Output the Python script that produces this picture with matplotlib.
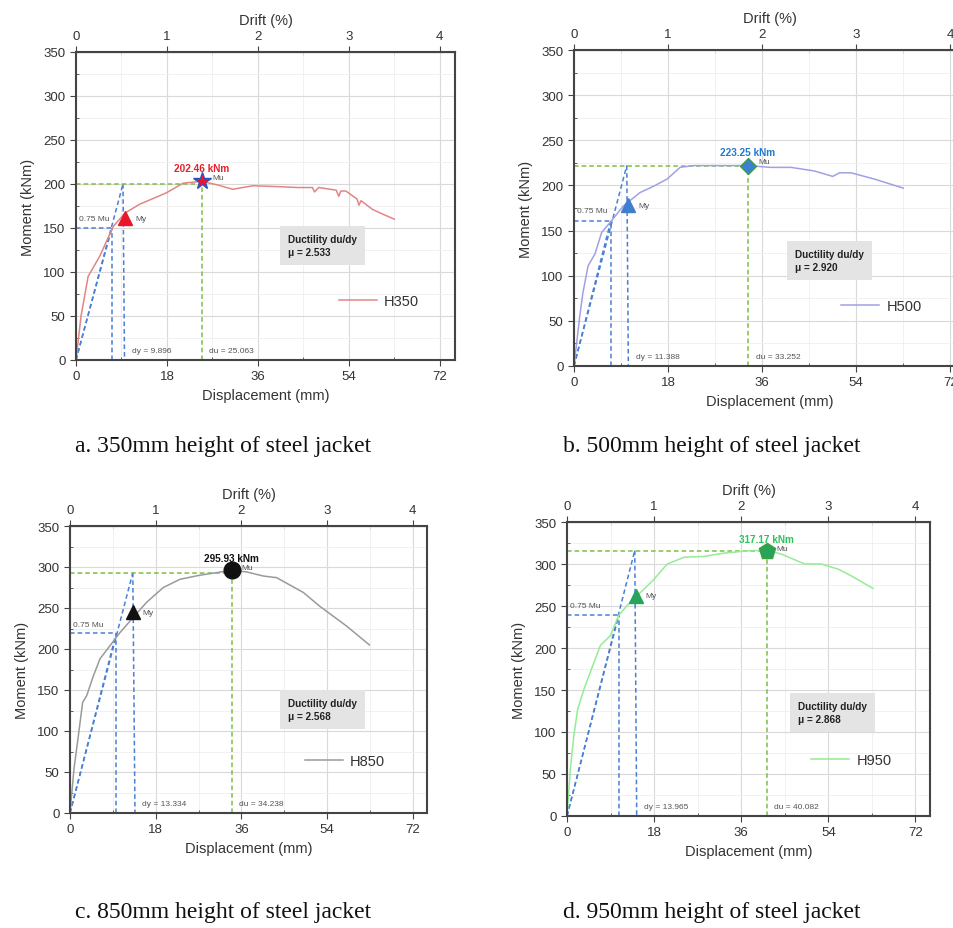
import matplotlib
matplotlib.use('Agg')
import matplotlib.pyplot as plt
from matplotlib.ticker import MultipleLocator

plt.rcParams['font.family'] = ['Liberation Sans', 'DejaVu Sans']

# curves (displacement mm, moment kNm)
disp_350 = [0, 1.0, 2.4, 4.7, 7.4, 9.7, 12.6, 17.9, 21.2, 24.8, 28, 31, 35, 40, 44, 46.8, 47.2, 48, 51.5, 52, 52.4, 53.4, 55.6, 56, 56.4, 58.7, 61, 63]
mom_350 = [0, 50, 95, 118, 152, 167, 177, 190, 201, 203, 199, 194, 198, 197, 196, 196, 191, 196, 193, 186, 192, 192, 183, 176, 181, 171, 165, 160]

disp_500 = [0, 1.1, 1.7, 2.7, 4.0, 5.3, 7.2, 9.4, 12.6, 15.2, 17.8, 20.3, 22.9, 28, 33.3, 37.6, 41.5, 46, 49.5, 50.8, 53, 57.5, 63]
mom_500 = [0, 55, 81, 111, 124, 148, 161, 177, 192, 199, 207, 220, 222, 222, 222, 220, 220, 216, 210, 214, 214, 207, 197]

disp_850 = [0, 0.84, 1.75, 2.66, 3.5, 4.9, 6.3, 8.4, 10.5, 13.2, 16.1, 19.6, 23.1, 27.3, 34, 37.1, 40.6, 43.4, 49, 52.5, 58.1, 62.9]
mom_850 = [0, 54, 94, 135, 143, 167, 188, 204, 220, 238, 257, 275, 285, 290, 296, 294, 289, 287, 269, 252, 228, 205]

disp_950 = [0, 0.7, 1.4, 2.2, 3.5, 4.8, 6.9, 9.0, 10.7, 13.1, 15.9, 18.0, 20.7, 24.2, 28.3, 32.5, 38, 41.5, 44.2, 49.1, 52.5, 56, 58.7, 63.2]
mom_950 = [0, 56, 95, 127, 151, 171, 203, 215, 239, 255, 270, 282, 300, 308, 309, 313, 316, 316, 312, 300, 300, 294, 286, 271]

names = ['H350', 'H500', 'H850', 'H950']
captions = ['a. 350mm height of steel jacket', 'b. 500mm height of steel jacket',
            'c. 850mm height of steel jacket', 'd. 950mm height of steel jacket']
mu_text = ['202.46 kNm', '223.25 kNm', '295.93 kNm', '317.17 kNm']
dy_text = ['dy = 9.896', 'dy = 11.388', 'dy = 13.334', 'dy = 13.965']
du_text = ['du = 25.063', 'du = 33.252', 'du = 34.238', 'du = 40.082']
duct_text = ['2.533', '2.920', '2.568', '2.868']

# key points as drawn
mu_x = [24.9, 33.3, 34.0, 41.3]
mu_y = [203, 222, 296, 315]
mu_line = [200, 222, 293, 316]
my_x = [9.7, 10.25, 13.2, 14.2]
my_y = [161, 178, 245, 262]
m75 = [150, 161, 219, 239]
d75 = [7.1, 7.05, 9.7, 10.7]
dy_line = [9.6, 10.4, 13.65, 14.4]
top_x = [9.3, 10.1, 13.2, 14.0]

curve_colors = ['#e38585', '#a0a0e6', '#9a9a9a', '#95ec95']
mark_colors = ['#e8182a', '#3f7fcf', '#111111', '#27a35a']
label_colors = ['#e8202a', '#1f7ad0', '#111111', '#2dc25c']
mu_markers = ['*', 'D', 'o', 'p']
mu_sizes = [13, 8, 12, 12]
mu_edges = ['#3050c0', '#3aa040', '#111111', '#3aa040']
box_x = [42.0, 42.3, 45.8, 47.8]
box_y = [130, 117, 126, 123]
leg_anchor = [(0.94, 0.19), (0.92, 0.19), (0.92, 0.18), (0.93, 0.19)]

# axes boxes in pixels: left, right, top, bottom
boxes = [(76, 455, 53, 361), (574, 966, 51, 367), (70, 427, 527, 814), (567, 930, 523, 817)]
cap_pos = [(75, 447), (563, 447), (75, 913), (563, 913)]

curves = [(disp_350, mom_350), (disp_500, mom_500), (disp_850, mom_850), (disp_950, mom_950)]

W, H = 954, 929
fig = plt.figure(figsize=(W / 100, H / 100), dpi=100)

blue = '#4a7fd6'
green = '#7cbf45'
grey = '#555555'

for i in range(4):
    l, r, t, b = boxes[i]
    ax = fig.add_axes([l / W, 1 - b / H, (r - l) / W, (b - t) / H])
    ax.set_xlim(0, 75)
    ax.set_ylim(0, 350)
    ax.xaxis.set_major_locator(MultipleLocator(18))
    ax.xaxis.set_minor_locator(MultipleLocator(9))
    ax.yaxis.set_major_locator(MultipleLocator(50))
    ax.yaxis.set_minor_locator(MultipleLocator(25))
    ax.grid(which='major', color='#d9d9d9', lw=0.8)
    ax.grid(which='minor', color='#efefef', lw=0.6)
    ax.set_axisbelow(True)
    ax.tick_params(which='major', direction='out', length=4, labelsize=9.5, colors='#444444', labelcolor='#333333')
    ax.tick_params(which='minor', direction='in', length=2.5, colors='#444444')
    for s in ax.spines.values():
        s.set_color('#444444')
        s.set_linewidth(1.5)
    ax.set_xlabel('Displacement (mm)', fontsize=10.5, color='#333333', labelpad=4)
    ax.set_ylabel('Moment (kNm)', fontsize=10.5, color='#333333', labelpad=6)

    top = ax.secondary_xaxis('top', functions=(lambda x: x / 18, lambda x: x * 18))
    top.xaxis.set_major_locator(MultipleLocator(1))
    top.xaxis.set_minor_locator(MultipleLocator(0.5))
    top.tick_params(which='major', direction='out', length=4, labelsize=9.5, colors='#444444', labelcolor='#333333')
    top.tick_params(which='minor', direction='in', length=2.5, colors='#444444')
    top.set_xlabel('Drift (%)', fontsize=10.5, color='#333333', labelpad=4)

    dash = dict(ls=(0, (3, 2)), lw=1.1)
    # bilinear idealisation lines
    ax.plot([0, top_x[i]], [0, mu_line[i]], color=blue, **dash)
    ax.plot([0, d75[i]], [0, m75[i]], color=blue, **dash)
    ax.plot([top_x[i], dy_line[i]], [mu_line[i], 0], color=blue, **dash)
    ax.plot([0, d75[i]], [m75[i], m75[i]], color=blue, **dash)
    ax.plot([d75[i], d75[i]], [0, m75[i]], color=blue, **dash)
    ax.plot([0, mu_x[i]], [mu_line[i], mu_line[i]], color=green, **dash)
    ax.plot([mu_x[i], mu_x[i]], [0, mu_line[i]], color=green, **dash)

    x, y = curves[i]
    ax.plot(x, y, color=curve_colors[i], lw=1.1, label=names[i])

    ax.plot(my_x[i], my_y[i], marker='^', ms=10, color=mark_colors[i], mec=mark_colors[i], ls='none')
    ax.plot(mu_x[i], mu_y[i], marker=mu_markers[i], ms=mu_sizes[i], color=mark_colors[i],
            mec=mu_edges[i], mew=1.0, ls='none')

    ax.text(mu_x[i], mu_y[i] + 15, mu_text[i], color=label_colors[i], fontsize=7.2,
            fontweight='bold', ha='center', va='center')
    ax.text(mu_x[i] + 2, mu_y[i] + 4, 'Mu', color=grey, fontsize=6, va='center')
    ax.text(my_x[i] + 2, my_y[i], 'My', color=grey, fontsize=6, va='center')
    ax.text(0.6, m75[i] + 11, '0.75 Mu', color=grey, fontsize=6, va='center')
    ax.text(dy_line[i] + 1.5, 11, dy_text[i], color=grey, fontsize=6, va='center')
    ax.text(mu_x[i] + 1.5, 11, du_text[i], color=grey, fontsize=6, va='center')
    ax.text(box_x[i], box_y[i], 'Ductility du/dy\n\u03bc = ' + duct_text[i], fontsize=7.2,
            fontweight='bold', color='#222222', va='center', linespacing=1.4,
            bbox=dict(facecolor='#e4e4e4', edgecolor='none', boxstyle='square,pad=0.8'))

    ax.legend(loc='center right', bbox_to_anchor=leg_anchor[i], frameon=False, fontsize=10.5,
              handlelength=2.6, handletextpad=0.5, labelcolor='#333333')

    fig.text(cap_pos[i][0] / W, 1 - cap_pos[i][1] / H, captions[i], family='Liberation Serif',
             fontsize=17, va='center', ha='left', color='#111111')

fig.savefig('out.png', dpi=100)
